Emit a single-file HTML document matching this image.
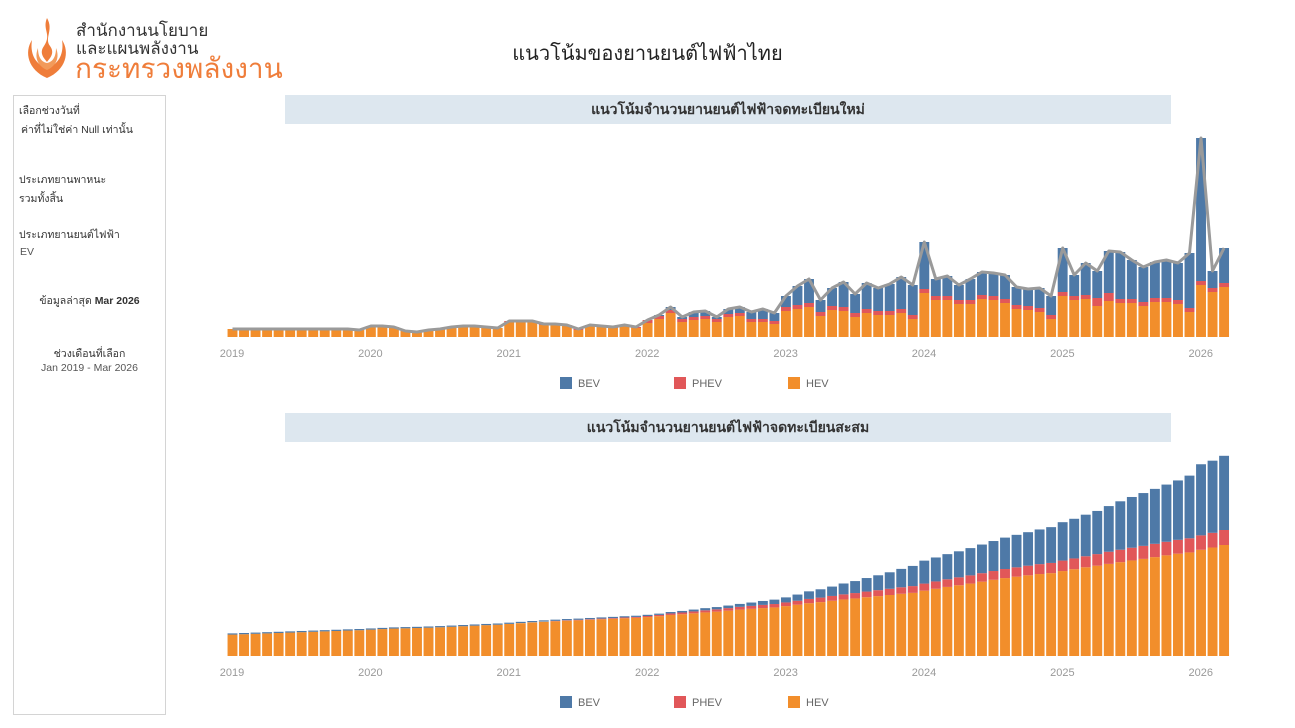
<!DOCTYPE html>
<html><head><meta charset="utf-8">
<style>
body{margin:0;width:1295px;height:728px;background:#fff;font-family:"Liberation Sans","Noto Sans CJK SC",sans-serif;position:relative;overflow:hidden}
.abs{position:absolute}
.panel{left:13px;top:95px;width:153px;height:620px;border:1px solid #d4d4d4;box-sizing:border-box;font-size:10.5px;color:#333}
.hdr{left:285px;width:886px;height:29px;background:#dde7ef;text-align:center;font-weight:bold;font-size:14px;line-height:29px;color:#333}
</style></head><body>
<svg class="abs" style="left:22px;top:16px" width="50" height="64" viewBox="0 0 50 64">
<path d="M25 2 C20 14 30 18 22 30 C16 38 24 44 25 46 C26 44 34 38 28 30 C22 22 32 14 25 2Z" fill="#ef7d3a"/>
<path d="M10 24 C2 36 6 54 25 62 C44 54 48 36 40 24 C42 36 38 48 25 52 C12 48 8 36 10 24Z" fill="#ef7d3a"/>
<path d="M16 32 C12 42 16 50 25 54 C34 50 38 42 34 32 C34 42 30 46 25 47 C20 46 16 42 16 32Z" fill="#f29a5a"/>
</svg>
<div class="abs" style="left:76px;top:22px;font-size:17px;color:#333;line-height:18px">สำนักงานนโยบาย<br>และแผนพลังงาน</div>
<div class="abs" style="left:75px;top:54px;font-size:28px;color:#ef7d3a;line-height:30px">กระทรวงพลังงาน</div>
<div class="abs" style="left:0;width:1295px;top:37px;text-align:center;font-size:20px;color:#222">แนวโน้มของยานยนต์ไฟฟ้าไทย</div>
<div class="abs panel">
<div class="abs" style="left:5px;top:6px">เลือกช่วงวันที่</div>
<div class="abs" style="left:7px;top:25px">ค่าที่ไม่ใช่ค่า Null เท่านั้น</div>
<div class="abs" style="left:5px;top:75px">ประเภทยานพาหนะ</div>
<div class="abs" style="left:5px;top:94px">รวมทั้งสิ้น</div>
<div class="abs" style="left:5px;top:130px">ประเภทยานยนต์ไฟฟ้า</div>
<div class="abs" style="left:6px;top:150px;color:#555">EV</div>
<div class="abs" style="left:0;width:151px;text-align:center;top:196px">ข้อมูลล่าสุด <b>Mar 2026</b></div>
<div class="abs" style="left:0;width:151px;text-align:center;top:249px">ช่วงเดือนที่เลือก</div>
<div class="abs" style="left:0;width:151px;text-align:center;top:266px;color:#555">Jan 2019 - Mar 2026</div>
</div>
<div class="abs hdr" style="top:95px">แนวโน้มจำนวนยานยนต์ไฟฟ้าจดทะเบียนใหม่</div>
<div class="abs hdr" style="top:413px">แนวโน้มจำนวนยานยนต์ไฟฟ้าจดทะเบียนสะสม</div>
<svg id="c" class="abs" style="left:0;top:0" width="1295" height="728"></svg>
<script>
var T=[8,8,8,8,8,8,8,8,8,8,8,7, 11,11,10,6,5,7,8,10,11,11,10,9, 16,16,16,13,13,12,8,12,11,10,12,10,
17,22,30,20,25,26,20,28,30,25,28,24, 41,51,58,37,49,55,43,54,49,53,60,52,
95,58,61,52,58,65,64,62,50,48,49,41, 89,62,74,66,86,85,77,70,75,77,74,84, 199,66,89];
var H=[8,8,8,8,8,8,8,8,8,8,8,7, 11,11,10,6,5,7,8,10,11,11,10,9, 15,15,15,12,12,11,7,11,10,9,11,9,
14,18,24,15,17,18,15,20,21,15,15,13, 26,28,30,21,27,26,20,24,22,22,24,18,
44,37,37,33,33,38,37,34,28,27,25,18, 41,37,38,31,36,34,34,31,35,35,33,25, 52,45,50];
var P=[];for(var i=0;i<T.length;i++){var p=i<24?0:(i<36?1:(i<48?3:4));if(i==75||i==76)p=8;P.push(Math.min(p,T[i]-H[i]));}
var s='',n=T.length,bw=9.9;
function cx(i){return 232.5+i*11.53;}
var line=[];
for(var i=0;i<n;i++){var x=cx(i)-bw/2,b=337,h=H[i],p=P[i],t=T[i];
s+='<rect x="'+x+'" y="'+(b-h)+'" width="'+bw+'" height="'+h+'" fill="#f28e2b"/>';
if(p>0)s+='<rect x="'+x+'" y="'+(b-h-p)+'" width="'+bw+'" height="'+p+'" fill="#e15759"/>';
if(t-h-p>0)s+='<rect x="'+x+'" y="'+(b-t)+'" width="'+bw+'" height="'+(t-h-p)+'" fill="#4e79a7"/>';
line.push(cx(i).toFixed(1)+','+(b-t));}
s+='<polyline points="'+line.join(' ')+'" fill="none" stroke="#9a9a9a" stroke-width="3" stroke-linejoin="round"/>';
var cH=0,cP=0,cB=0,aH=[],aP=[],aB=[];
for(var i=0;i<n;i++){cH+=H[i];cP+=P[i];cB+=T[i]-H[i]-P[i];aH.push(cH);aP.push(cP);aB.push(cB);}
var kH=90/cH,kP=15/cP,kB=73/cB;
for(var i=0;i<n;i++){var x=cx(i)-bw/2,b=656,h=21+aH[i]*kH,p=aP[i]*kP,q=aB[i]*kB;
s+='<rect x="'+x+'" y="'+(b-h)+'" width="'+bw+'" height="'+h+'" fill="#f28e2b"/>';
if(p>0.3)s+='<rect x="'+x+'" y="'+(b-h-p)+'" width="'+bw+'" height="'+p+'" fill="#e15759"/>';
s+='<rect x="'+x+'" y="'+(b-h-p-q-1.2)+'" width="'+bw+'" height="'+(q+1.2)+'" fill="#4e79a7"/>';}
var yrs=[2019,2020,2021,2022,2023,2024,2025,2026];
for(var k=0;k<8;k++){var x=232+k*138.4;
s+='<text x="'+x+'" y="357" font-size="11" fill="#999" text-anchor="middle">'+yrs[k]+'</text>';
s+='<text x="'+x+'" y="676" font-size="11" fill="#999" text-anchor="middle">'+yrs[k]+'</text>';}
var lg=[[560,'#4e79a7','BEV'],[674,'#e15759','PHEV'],[788,'#f28e2b','HEV']];
[377,696].forEach(function(y){lg.forEach(function(l){
s+='<rect x="'+l[0]+'" y="'+y+'" width="12" height="12" fill="'+l[1]+'"/>';
s+='<text x="'+(l[0]+18)+'" y="'+(y+10)+'" font-size="11" fill="#666">'+l[2]+'</text>';});});
document.getElementById('c').innerHTML=s;
</script>
</body></html>
